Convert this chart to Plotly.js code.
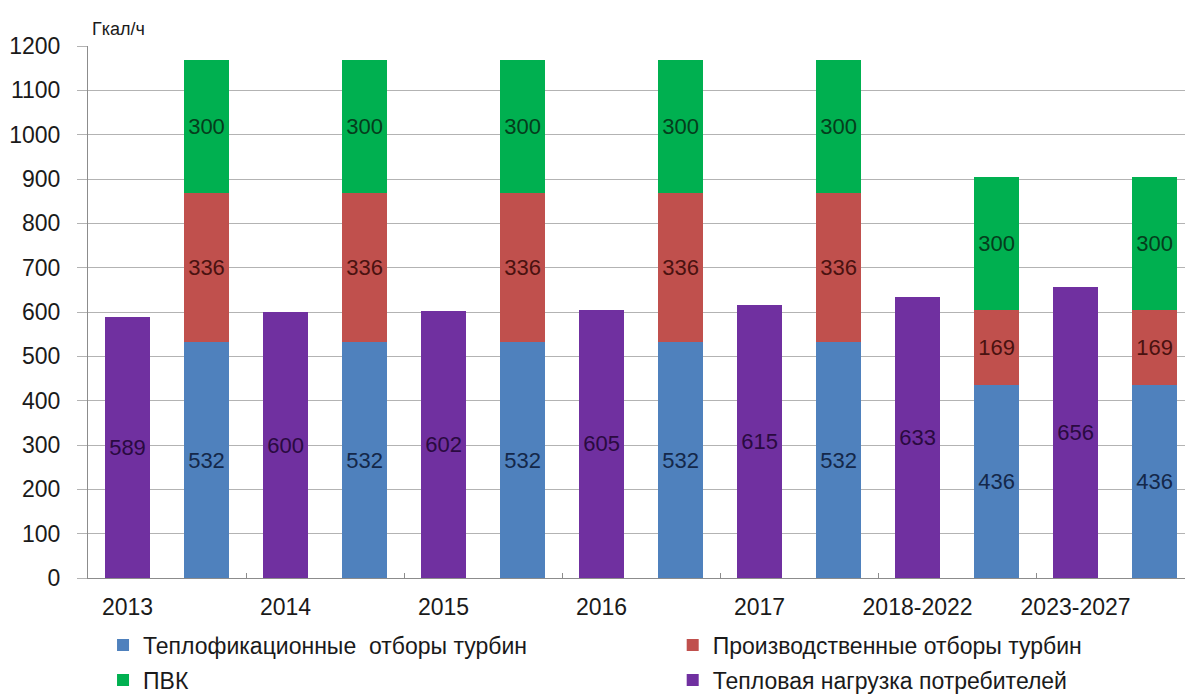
<!DOCTYPE html>
<html>
<head>
<meta charset="utf-8">
<script src="https://cdn.plot.ly/plotly-3.0.1.min.js"></script>
<style>html,body{margin:0;padding:0;background:#fff;}#chart{width:1185px;height:695px;}</style>
</head>
<body>
<div id="chart"></div>
<script>
const categories = ["2013", "2014", "2015", "2016", "2017", "2018-2022", "2023-2027"];
const consumerLoad = [589, 600, 602, 605, 615, 633, 656];
const heatingExtraction = [532, 532, 532, 532, 532, 436, 436];
const industrialExtraction = [336, 336, 336, 336, 336, 169, 169];
const peakBoilers = [300, 300, 300, 300, 300, 300, 300];
const seriesNames = ["Теплофикационные  отборы турбин", "Производственные отборы турбин", "ПВК", "Тепловая нагрузка потребителей"];
const unitLabel = "Гкал/ч";

const loadX = categories.map((c, i) => 2 * i);
const stackX = categories.map((c, i) => 2 * i + 1);
const barW = 0.57;
const font = "Liberation Sans, Arial, sans-serif";

function barTrace(name, x, y, color, textColor, legendId) {
  return {
    type: "bar", name: name, x: x, y: y, width: barW, legend: legendId,
    marker: {color: color, line: {width: 0}},
    text: y.map(String), texttemplate: "%{text}", textposition: "inside",
    insidetextanchor: "middle", textangle: 0, constraintext: "none",
    textfont: {family: font, size: 22, color: textColor},
    hoverinfo: "skip"
  };
}

const traces = [
  barTrace(seriesNames[0], stackX, heatingExtraction, "#4f81bd", "#14284a", "legend"),
  barTrace(seriesNames[1], stackX, industrialExtraction, "#c0504d", "#4a1210", "legend2"),
  barTrace(seriesNames[2], stackX, peakBoilers, "#00b050", "#053d1c", "legend3"),
  barTrace(seriesNames[3], loadX, consumerLoad, "#7030a0", "#2a0a40", "legend4")
];

const boundaries = categories.slice(1).map((c, i) => 2 * (i + 1) - 0.5);

function legendAt(x, y) {
  return {
    x: x, xanchor: "left", y: y, yanchor: "middle",
    orientation: "v", bgcolor: "rgba(0,0,0,0)", borderwidth: 0,
    font: {family: font, size: 23, color: "#1a1a1a"}, itemwidth: 30
  };
}

const layout = {
  width: 1185, height: 695,
  margin: {l: 88, r: 0, t: 46, b: 117, autoexpand: false},
  paper_bgcolor: "#ffffff", plot_bgcolor: "#ffffff",
  barmode: "stack",
  font: {family: font, size: 23, color: "#1a1a1a"},
  showlegend: true,
  xaxis: {
    range: [-0.5, 13.385],
    tickvals: loadX, ticktext: categories,
    ticks: "", showgrid: false, zeroline: false,
    showline: true, linecolor: "#8c8c8c", linewidth: 1,
    ticklabelstandoff: 8,
    tickfont: {family: font, size: 23, color: "#1a1a1a"},
    minor: {tickvals: boundaries, ticks: "inside", ticklen: 5, tickcolor: "#8c8c8c", showgrid: false}
  },
  yaxis: {
    range: [0, 1200], tickvals: [0,100,200,300,400,500,600,700,800,900,1000,1100,1200],
    showgrid: true, gridcolor: "#b3b3b3", gridwidth: 1,
    zeroline: false, showline: true, linecolor: "#8c8c8c", linewidth: 1,
    ticks: "outside", ticklen: 10, tickcolor: "#b3b3b3",
    ticklabelstandoff: 12,
    tickfont: {family: font, size: 23, color: "#1a1a1a"}
  },
  legend: legendAt(0.0137, -0.126),
  legend2: legendAt(0.533, -0.126),
  legend3: legendAt(0.0137, -0.192),
  legend4: legendAt(0.533, -0.192),
  annotations: [{
    text: unitLabel, xref: "paper", yref: "paper", x: 0.0018, y: 1.032,
    xanchor: "left", yanchor: "middle", showarrow: false,
    font: {family: font, size: 18, color: "#1a1a1a"}
  }]
};

Plotly.newPlot("chart", traces, layout, {displayModeBar: false, staticPlot: true});
</script>
</body>
</html>
